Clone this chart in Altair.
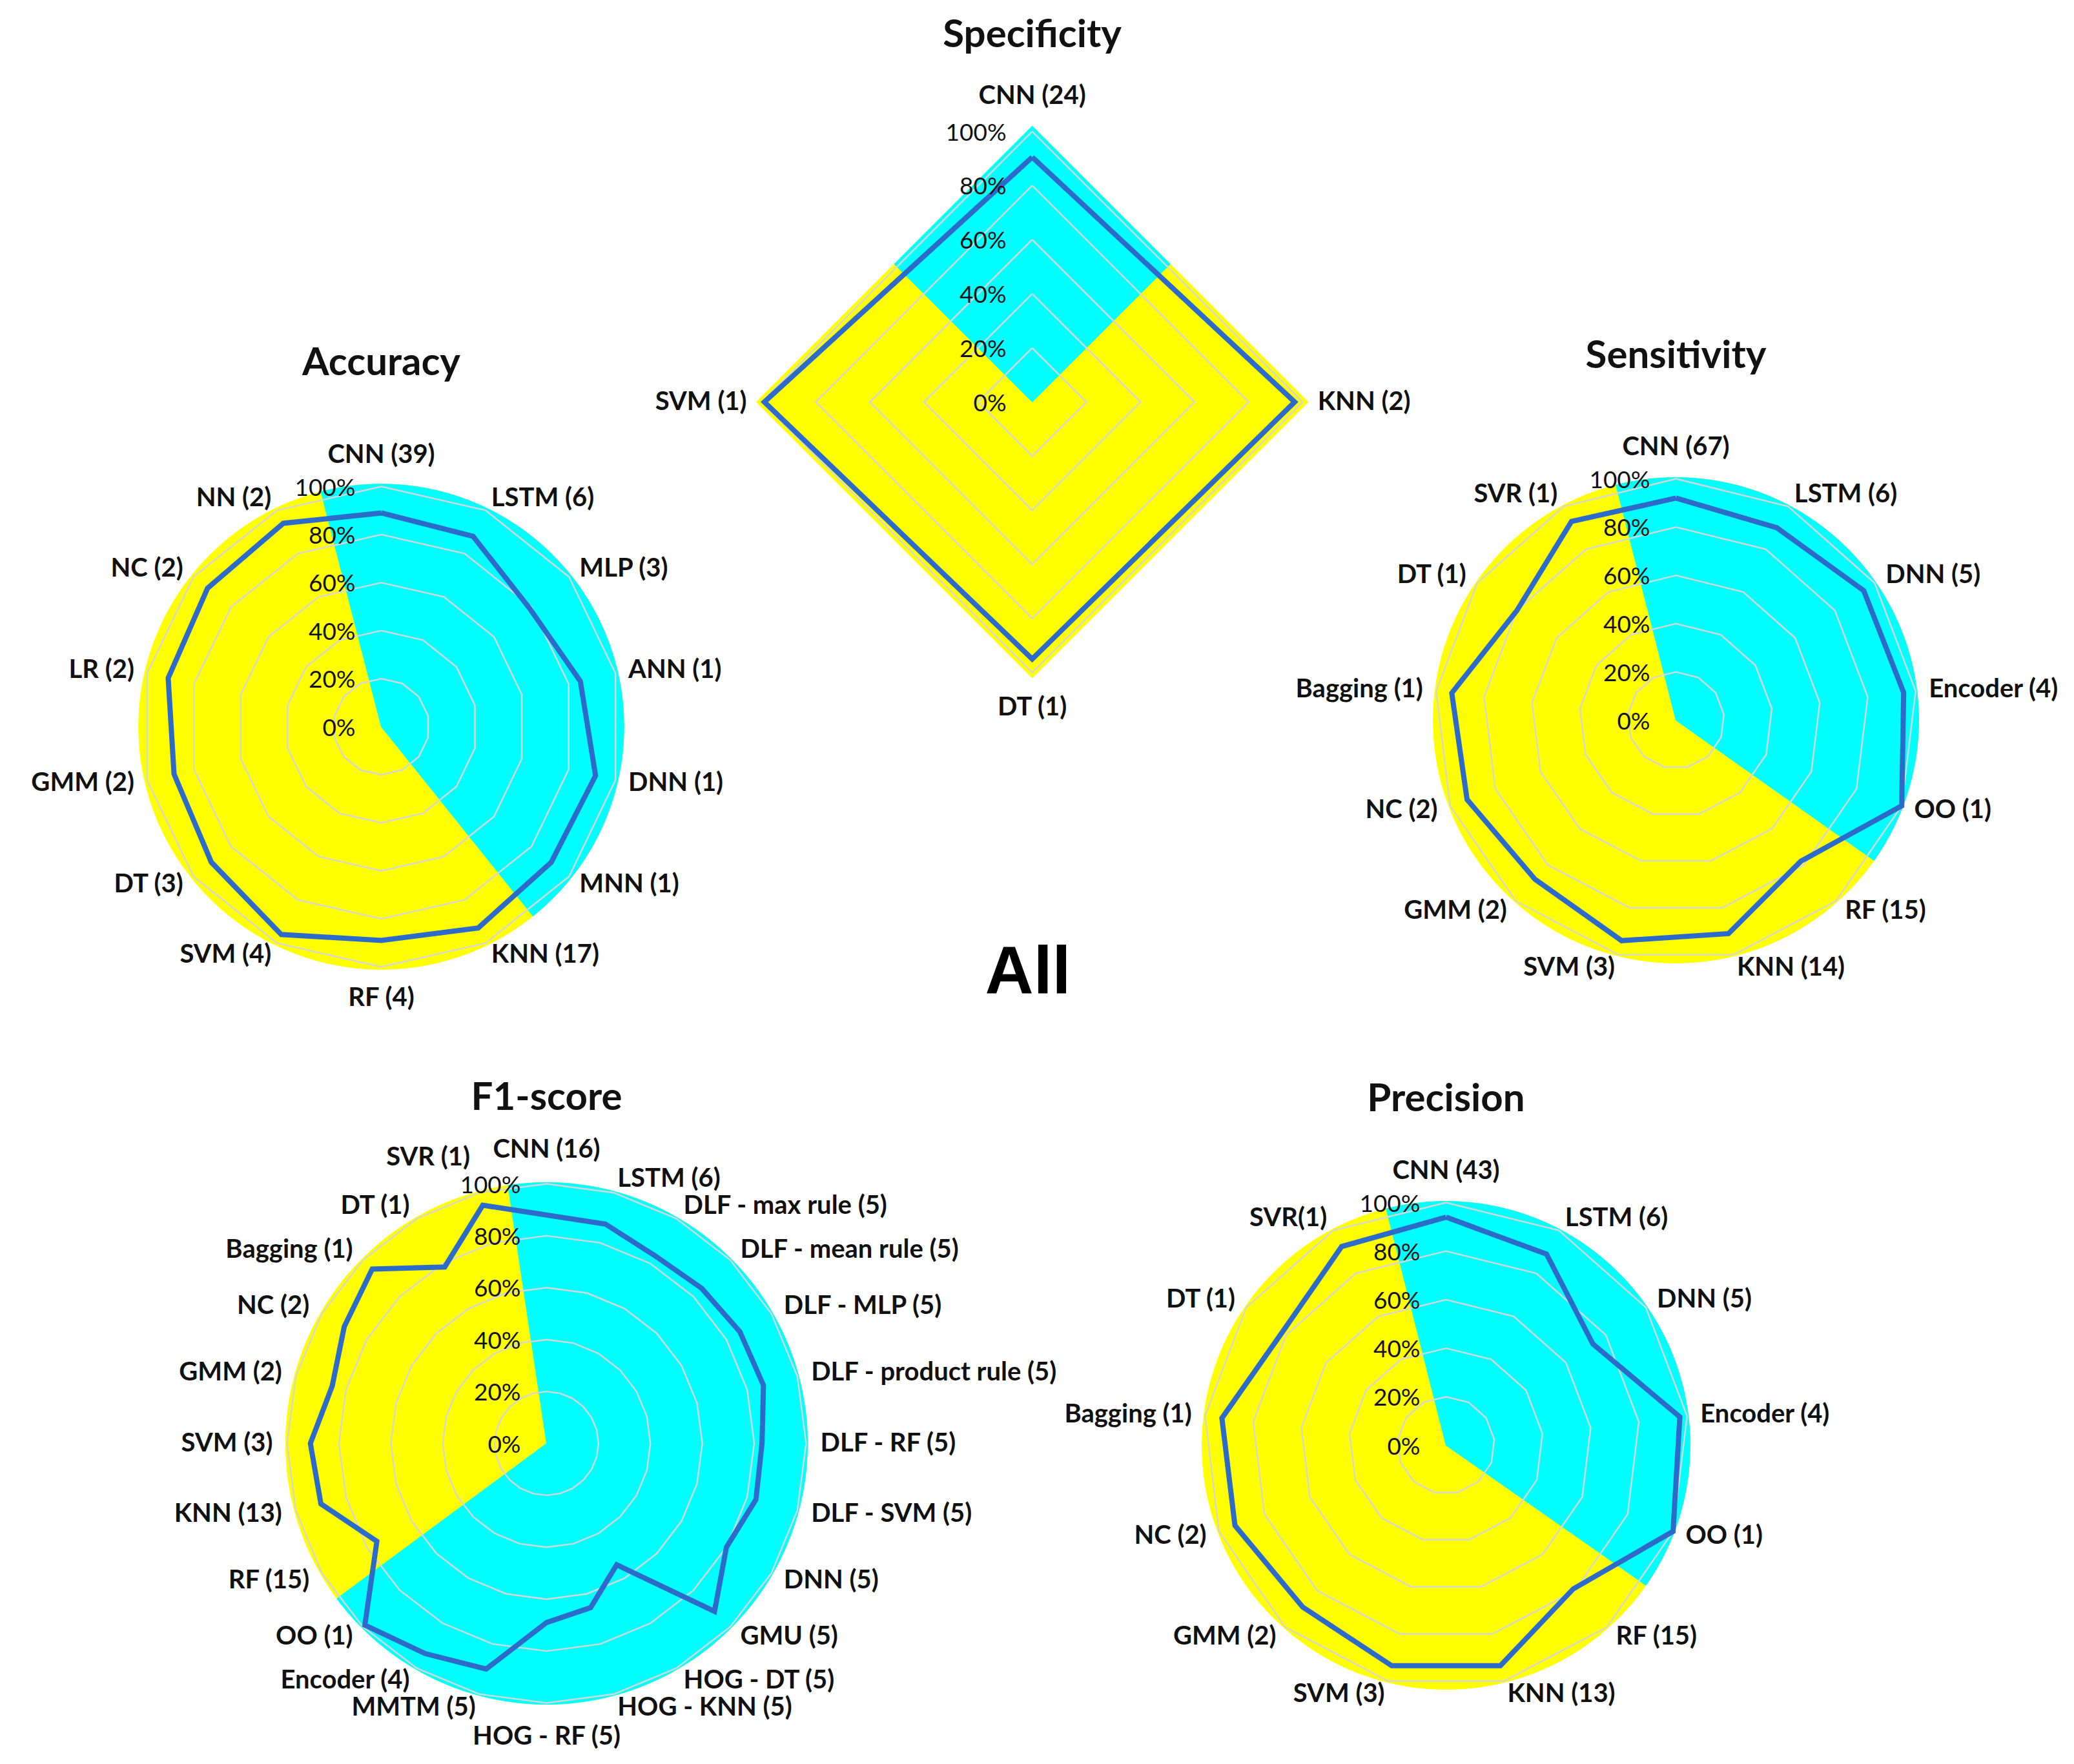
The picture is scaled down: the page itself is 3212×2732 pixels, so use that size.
import math
import numpy as np
import pandas as pd
import altair as alt

# ---------------- data ----------------
acc_labels = ["CNN (39)", "LSTM (6)", "MLP (3)", "ANN (1)", "DNN (1)", "MNN (1)", "KNN (17)",
              "RF (4)", "SVM (4)", "DT (3)", "GMM (2)", "LR (2)", "NC (2)", "NN (2)"]
acc_values = [0.89, 0.88, 0.79, 0.85, 0.915, 0.905, 0.93, 0.89, 0.96, 0.905, 0.885, 0.91, 0.925, 0.94]
acc_cyan = [-14.4, 141.3]

spec_labels = ["CNN (24)", "KNN (2)", "DT (1)", "SVM (1)"]
spec_values = [0.905, 0.97, 0.95, 0.99]
spec_cyan = [-45.0, 45.0]

sens_labels = ["CNN (67)", "LSTM (6)", "DNN (5)", "Encoder (4)", "OO (1)", "RF (15)", "KNN (14)",
               "SVM (3)", "GMM (2)", "NC (2)", "Bagging (1)", "DT (1)", "SVR (1)"]
sens_values = [0.92, 0.90, 0.945, 0.95, 1.0, 0.78, 0.91, 0.94, 0.88, 0.925, 0.935, 0.80, 0.93]
sens_cyan = [-14.3, 125.3]

f1_labels = ["CNN (16)", "LSTM (6)", "DLF - max rule (5)", "DLF - mean rule (5)", "DLF - MLP (5)",
             "DLF - product rule (5)", "DLF - RF (5)", "DLF - SVM (5)", "DNN (5)", "GMU (5)",
             "HOG - DT (5)", "HOG - KNN (5)", "HOG - RF (5)", "MMTM (5)", "Encoder (4)", "OO (1)",
             "RF (15)", "KNN (13)", "SVM (3)", "GMM (2)", "NC (2)", "Bagging (1)", "DT (1)", "SVR (1)"]
f1_values = [0.88, 0.875, 0.835, 0.845, 0.86, 0.865, 0.83, 0.835, 0.80, 0.915, 0.54, 0.655,
             0.69, 0.90, 0.935, 0.99, 0.755, 0.90, 0.91, 0.855, 0.90, 0.95, 0.785, 0.95]
f1_cyan = [-8.5, 233.5]

prec_labels = ["CNN (43)", "LSTM (6)", "DNN (5)", "Encoder (4)", "OO (1)", "RF (15)", "KNN (13)",
               "SVM (3)", "GMM (2)", "NC (2)", "Bagging (1)", "DT (1)", "SVR(1)"]
prec_values = [0.94, 0.89, 0.735, 0.97, 1.0, 0.79, 0.935, 0.935, 0.89, 0.93, 0.93, 0.82, 0.925]
prec_cyan = [-14.2, 125.0]

ring_levels = [0.0, 0.2, 0.4, 0.6, 0.8, 1.0]
ring_texts = ["0%", "20%", "40%", "60%", "80%", "100%"]

titles = ["Accuracy", "Specificity", "Sensitivity", "F1-score", "Precision"]
center_title = "All"

# ---------------- layout (page pixels) ----------------
LAYOUT = {
    "Accuracy":    dict(cx=590.5,  cy=1125.5, R=372, ty=581,  bg="circle",  bgk=1.01),
    "Specificity": dict(cx=1598.6, cy=622.6,  R=419, ty=73,   bg="polygon", bgk=1.02),
    "Sensitivity": dict(cx=2595.5, cy=1115.5, R=374, ty=570,  bg="circle",  bgk=1.005),
    "F1-score":    dict(cx=846.5,  cy=2235.5, R=402, ty=1719, bg="circle",  bgk=1.005),
    "Precision":   dict(cx=2239.5, cy=2238.5, R=376, ty=1721, bg="circle",  bgk=1.005),
}
LABEL_PUSH = {("F1-score", "SVR (1)"): 1.14}
ALL_POS = dict(cx=1592, ty=1538)
DATA = {
    "Accuracy": (acc_labels, acc_values, acc_cyan),
    "Specificity": (spec_labels, spec_values, spec_cyan),
    "Sensitivity": (sens_labels, sens_values, sens_cyan),
    "F1-score": (f1_labels, f1_values, f1_cyan),
    "Precision": (prec_labels, prec_values, prec_cyan),
}

YELLOW = "#FFFF00"
CYAN = "#00FFFF"
BLUE = "#2D6BCB"
GRID = "#D6D6D6"
FONT = "Lato"


def shape_r(theta, n, kind):
    if kind == "circle":
        return 1.0
    step = 360.0 / n
    local = (theta % step) - step / 2.0
    return math.cos(math.pi / n) / math.cos(math.radians(local))


yellow_rows, cyan_rows, grid_rows, line_rows, label_rows, tick_rows = [], [], [], [], [], []
for name, (labels, values, cyan) in DATA.items():
    L = LAYOUT[name]
    n = len(labels)
    base = dict(chart=name, cx=L["cx"], cy=L["cy"], R=L["R"])
    # full yellow background
    angs = list(np.arange(0, 360.0001, 0.5))
    for i, a in enumerate(angs):
        yellow_rows.append(dict(base, key=name, i=i, ang=a, r=L["bgk"] * shape_r(a, n, L["bg"])))
    # cyan sector
    a1, a2 = cyan
    sec = [a1] + list(np.arange(math.ceil(a1 * 2) / 2, a2, 0.5)) + [a2]
    pts = [(a1, 0.0)] + [(a, L["bgk"] * shape_r(a, n, L["bg"])) for a in sec] + [(a2, 0.0)]
    for i, (a, r) in enumerate(pts):
        cyan_rows.append(dict(base, key=name, i=i, ang=a, r=r))
    # grid rings
    for lv in ring_levels[1:]:
        for k in range(n + 1):
            grid_rows.append(dict(base, key=f"{name}-{lv}", i=k, ang=360.0 * (k % n) / n, r=lv))
    # data polygon
    for k in range(n + 1):
        line_rows.append(dict(base, key=name, i=k, ang=360.0 * (k % n) / n, r=values[k % n]))
    # category labels
    for k, lab in enumerate(labels):
        a = 360.0 * k / n
        s = math.sin(math.radians(a))
        if abs(s) < 0.05:
            al, kk = "center", 1.13
        elif s > 0:
            al, kk = "left", 1.055
        else:
            al, kk = "right", 1.055
        kk = LABEL_PUSH.get((name, lab), kk)
        label_rows.append(dict(base, ang=a, r=kk, text=lab, align=al))
    # radial tick labels
    for lv, t in zip(ring_levels, ring_texts):
        tick_rows.append(dict(base, ang=0.0, r=lv, text=t))

title_rows = [dict(text=t, cx=LAYOUT[t]["cx"], ty=LAYOUT[t]["ty"]) for t in titles]
all_rows = [dict(text=center_title, cx=ALL_POS["cx"], ty=ALL_POS["ty"])]

W, H = 3196, 2716
xs = alt.Scale(domain=[8, 8 + W], nice=False, zero=False)
ys = alt.Scale(domain=[8, 8 + H], nice=False, zero=False, reverse=True)

calc = dict(
    px="datum.cx + datum.R * datum.r * sin(datum.ang * PI / 180)",
    py="datum.cy - datum.R * datum.r * cos(datum.ang * PI / 180)",
)


def polar(df):
    return alt.Chart(pd.DataFrame(df)).transform_calculate(**calc)


X = alt.X("px:Q", scale=xs, axis=None)
Y = alt.Y("py:Q", scale=ys, axis=None)

yellow = polar(yellow_rows).mark_line(fill=YELLOW, stroke=YELLOW, strokeWidth=1).encode(
    x=X, y=Y, detail="key:N", order="i:Q")
cyanl = polar(cyan_rows).mark_line(fill=CYAN, stroke=CYAN, strokeWidth=1).encode(
    x=X, y=Y, detail="key:N", order="i:Q")
grid = polar(grid_rows).mark_line(stroke=GRID, strokeWidth=2.4).encode(
    x=X, y=Y, detail="key:N", order="i:Q")
line = polar(line_rows).mark_line(stroke=BLUE, strokeWidth=8, strokeJoin="miter").encode(
    x=X, y=Y, detail="key:N", order="i:Q")

label_layers = []
for al in ["left", "right", "center"]:
    label_layers.append(
        polar(label_rows).transform_filter(alt.datum.align == al).mark_text(
            align=al, baseline="middle", font=FONT, fontWeight="bold", fontSize=40, color="#111111"
        ).encode(x=X, y=Y, text="text:N")
    )

ticks = polar(tick_rows).mark_text(
    align="right", baseline="middle", dx=-40, dy=3, font=FONT, fontSize=37, color="#111111"
).encode(x=X, y=Y, text="text:N")

title_layer = alt.Chart(pd.DataFrame(title_rows)).mark_text(
    align="center", baseline="alphabetic", font=FONT, fontWeight="bold", fontSize=60, color="#111111"
).encode(x=alt.X("cx:Q", scale=xs, axis=None), y=alt.Y("ty:Q", scale=ys, axis=None), text="text:N")

all_layer = alt.Chart(pd.DataFrame(all_rows)).mark_text(
    align="center", baseline="alphabetic", font="Liberation Sans", fontWeight="bold", fontSize=104,
    color="#000000"
).encode(x=alt.X("cx:Q", scale=xs, axis=None), y=alt.Y("ty:Q", scale=ys, axis=None), text="text:N")

chart = alt.layer(yellow, cyanl, grid, line, *label_layers, ticks, title_layer, all_layer).properties(
    width=W, height=H, autosize=alt.AutoSizeParams(type="none"), padding=0,
    background="white"
).configure_view(strokeWidth=0)

chart.save("out.html", embed_options={"renderer": "svg", "actions": False})
